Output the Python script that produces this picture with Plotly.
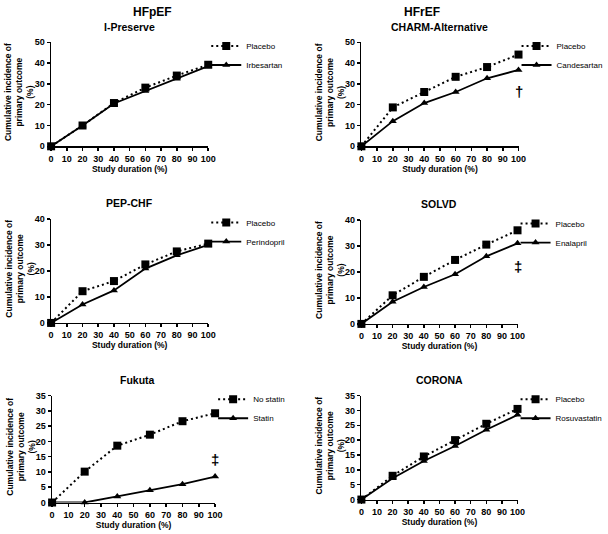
import plotly.graph_objects as go

W, H = 608, 534
FONT = "Liberation Sans, Arial, sans-serif"

duration = [0, 20, 40, 60, 80, 100]
x_ticks = list(range(0, 101, 10))

ipreserve_placebo = [0, 10.0, 20.8, 28.2, 34.0, 39.2]
ipreserve_irbesartan = [0, 10.0, 20.6, 26.6, 32.5, 38.5]
charm_placebo = [0, 18.7, 26.1, 33.4, 38.1, 44.1]
charm_candesartan = [0, 12.1, 20.8, 26.1, 32.7, 36.7]
pep_placebo = [0, 12.2, 16.1, 22.5, 27.5, 30.5]
pep_perindopril = [0, 7.1, 12.5, 20.9, 26.0, 30.0]
solvd_placebo = [0, 11.0, 18.1, 24.6, 30.5, 36.0]
solvd_enalapril = [0, 8.5, 14.2, 19.1, 26.0, 31.0]
fukuta_nostatin = [0, 10.1, 18.6, 22.2, 26.6, 29.2]
fukuta_statin = [0, 0.0, 2.0, 4.0, 6.0, 8.5]
corona_placebo = [0, 8.0, 14.5, 20.0, 25.5, 30.5]
corona_rosuvastatin = [0, 7.2, 13.0, 18.0, 23.5, 28.5]

study_titles = ["I-Preserve", "CHARM-Alternative", "PEP-CHF", "SOLVD", "Fukuta", "CORONA"]
control_names = ["Placebo", "Placebo", "Placebo", "Placebo", "No statin", "Placebo"]
treatment_names = ["Irbesartan", "Candesartan", "Perindopril", "Enalapril", "Statin", "Rosuvastatin"]
control_values = [ipreserve_placebo, charm_placebo, pep_placebo, solvd_placebo, fukuta_nostatin, corona_placebo]
treatment_values = [ipreserve_irbesartan, charm_candesartan, pep_perindopril, solvd_enalapril, fukuta_statin, corona_rosuvastatin]
y_max = [50, 50, 40, 40, 35, 35]
y_step = [10, 10, 10, 10, 5, 5]
group_titles = ["HFpEF", "HFrEF"]
sig_marks = [None, "†", None, "‡", "‡", None]
sig_levels = [None, 26.4, None, 21.9, 14.0, None]

# layout (page pixels): left, right, top, bottom of each plot area
boxes = [
    (49, 209, 38, 144),
    (365, 525, 38, 144),
    (49, 209, 218, 324),
    (365, 524, 219, 325),
    (50, 216, 398, 507),
    (365, 524, 398, 504),
]


def xp(px):
    return px / W


def yp(py):
    return 1 - py / H


fig = go.Figure()
annotations = []
layout = {}

for i in range(6):
    n = i + 1
    xa = "x" if n == 1 else f"x{n}"
    ya = "y" if n == 1 else f"y{n}"
    lg = "legend" if n == 1 else f"legend{n}"
    fig.add_trace(go.Scatter(
        x=duration, y=control_values[i], xaxis=xa, yaxis=ya, name=control_names[i],
        mode="lines+markers", legend=lg, cliponaxis=False,
        line=dict(color="black", width=2, dash="2px,3px"),
        marker=dict(symbol="square", size=8, color="black"),
    ))
    fig.add_trace(go.Scatter(
        x=duration, y=treatment_values[i], xaxis=xa, yaxis=ya, name=treatment_names[i],
        mode="lines+markers", legend=lg, cliponaxis=False,
        line=dict(color="black", width=1.8),
        marker=dict(symbol="triangle-up", size=7, color="black"),
    ))
    l, r, t, b = boxes[i]
    axname_x = "xaxis" if n == 1 else f"xaxis{n}"
    axname_y = "yaxis" if n == 1 else f"yaxis{n}"
    layout[axname_x] = dict(
        domain=[xp(l), xp(r)], anchor=ya, range=[0, 100],
        tickmode="array", tickvals=x_ticks, ticktext=[str(v) for v in x_ticks],
        showline=True, linecolor="black", linewidth=1.5,
        ticks="outside", ticklen=3, tickwidth=1.5, tickcolor="black",
        showgrid=False, zeroline=False,
        tickfont=dict(family=FONT, size=9, color="black", weight="bold"),
        title=dict(text="<b>Study duration (%)</b>", font=dict(family=FONT, size=8.5, color="black"), standoff=2),
    )
    layout[axname_y] = dict(
        domain=[yp(b), yp(t)], anchor=xa, range=[0, y_max[i]],
        tickmode="linear", tick0=0, dtick=y_step[i],
        showline=True, linecolor="black", linewidth=1.5,
        ticks="outside", ticklen=3, tickwidth=1.5, tickcolor="black",
        showgrid=False, zeroline=False,
        tickfont=dict(family=FONT, size=9, color="black", weight="bold"),
    )
    # legend
    layout[lg] = dict(
        x=xp(r - 2), y=yp(t - 11), xanchor="left", yanchor="top",
        bgcolor="rgba(0,0,0,0)", font=dict(family=FONT, size=8, color="black"),
        tracegroupgap=0, itemwidth=30,
    )
    # study title
    annotations.append(dict(
        x=xp((l + r) / 2 + (4 if i == 4 else 0)), y=yp(t - 16), xref="paper", yref="paper",
        text=f"<b>{study_titles[i]}</b>", showarrow=False,
        font=dict(family=FONT, size=10.5, color="black"), xanchor="center", yanchor="middle",
    ))
    # y title
    annotations.append(dict(
        x=xp(l - 32), y=yp((t + b) / 2 - 2), xref="paper", yref="paper",
        text="<b>Cumulative incidence of<br>primary outcome<br>(%)</b>", showarrow=False,
        textangle=-90, font=dict(family=FONT, size=8.5, color="black"),
        xanchor="center", yanchor="middle",
    ))
    if sig_marks[i]:
        annotations.append(dict(
            x=100, y=sig_levels[i], xref=xa, yref=ya, text=sig_marks[i],
            showarrow=False, font=dict(family=FONT, size=15, color="#000000", weight="bold"),
            xanchor="center", yanchor="middle",
        ))

annotations.append(dict(x=xp(130), y=yp(7), xref="paper", yref="paper", text=f"<b>{group_titles[0]}</b>",
                        showarrow=False, font=dict(family=FONT, size=12, color="black"), yanchor="middle"))
annotations.append(dict(x=xp(447), y=yp(7), xref="paper", yref="paper", text=f"<b>{group_titles[1]}</b>",
                        showarrow=False, font=dict(family=FONT, size=12, color="black"), yanchor="middle"))

fig.update_layout(
    width=W, height=H, margin=dict(l=0, r=0, t=0, b=0),
    paper_bgcolor="white", plot_bgcolor="white",
    annotations=annotations, showlegend=True, hovermode=False,
    **layout,
)
fig.write_html("out.html", config={"displayModeBar": False, "staticPlot": True},
               post_script="document.body.style.margin='0px';")
